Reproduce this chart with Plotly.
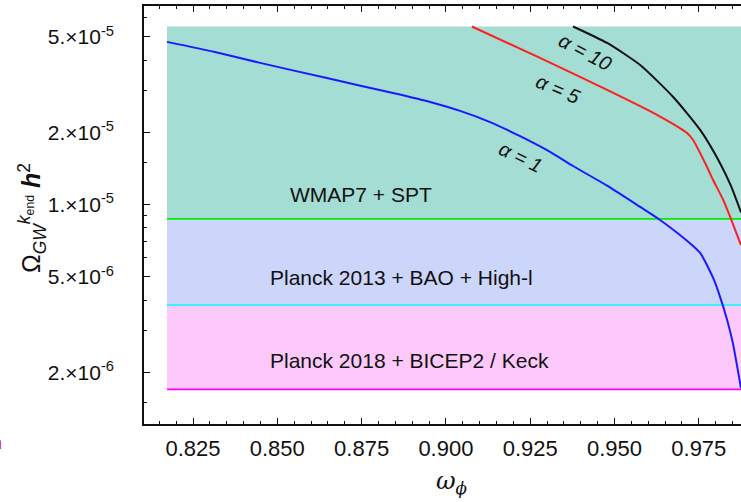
import plotly.graph_objects as go
import numpy as np

# ---- data ----
w_a1 = [0.8173, 0.8315, 0.8449, 0.8647, 0.8843, 0.8953, 0.9042, 0.9131, 0.9220, 0.9309,
        0.9377, 0.9478, 0.9576, 0.9635, 0.9694, 0.9733, 0.9754, 0.9774, 0.9795, 0.9813,
        0.9834, 0.9851, 0.9875]
om_a1 = [4.77e-5, 4.33e-5, 3.90e-5, 3.37e-5, 2.92e-5, 2.68e-5, 2.46e-5, 2.21e-5, 1.93e-5, 1.66e-5,
         1.45e-5, 1.20e-5, 9.79e-6, 8.64e-6, 7.48e-6, 6.73e-6, 6.30e-6, 5.61e-6, 4.86e-6, 4.13e-6,
         3.31e-6, 2.65e-6, 1.72e-6]

w_a5 = [0.9077, 0.9279, 0.9478, 0.9626, 0.9715, 0.9733, 0.9774, 0.9792, 0.9822, 0.9843, 0.9875]
om_a5 = [5.53e-5, 4.09e-5, 3.01e-5, 2.37e-5, 1.99e-5, 1.86e-5, 1.44e-5, 1.27e-5, 1.05e-5,
         8.89e-6, 6.79e-6]

w_a10 = [0.9377, 0.9478, 0.9576, 0.9674, 0.9754, 0.9813, 0.9845, 0.9875]
om_a10 = [5.53e-5, 4.72e-5, 3.82e-5, 2.81e-5, 2.05e-5, 1.49e-5, 1.20e-5, 9.3e-6]

curve_labels = ["α = 10", "α = 5", "α = 1"]

band_names = ["Planck 2018 + BICEP2 / Keck", "Planck 2013 + BAO + High-l", "WMAP7 + SPT"]
band_low = [1.70e-6, 3.82e-6, 8.73e-6]
band_high = [3.82e-6, 8.73e-6, 5.53e-5]
band_w = [0.8173, 0.9900]

x_ticks = [0.825, 0.850, 0.875, 0.900, 0.925, 0.950, 0.975]
x_ticktext = ["0.825", "0.850", "0.875", "0.900", "0.925", "0.950", "0.975"]
y_ticks = [2e-6, 5e-6, 1e-5, 2e-5, 5e-5]
y_ticktext = ["2.×10<sup>-6</sup>", "5.×10<sup>-6</sup>", "1.×10<sup>-5</sup>",
              "2.×10<sup>-5</sup>", "5.×10<sup>-5</sup>"]
y_minor = [1.5e-6, 3e-6, 4e-6, 6e-6, 7e-6, 8e-6, 9e-6, 1.5e-5, 3e-5, 4e-5, 6e-5]

# ---- styles ----
band_fill = ["#fdc9fb", "#ccd5fa", "#a3ddd4"]
band_edge = ["#ff00ff", "#00ffff", "#00ee00"]
FONT = "Liberation Sans, Arial, sans-serif"

fig = go.Figure()

for lo, hi, fc in zip(band_low, band_high, band_fill):
    fig.add_trace(go.Scatter(
        x=[band_w[0], band_w[1], band_w[1], band_w[0], band_w[0]],
        y=[lo, lo, hi, hi, lo], mode="lines", fill="toself",
        fillcolor=fc, line=dict(width=0), hoverinfo="skip", showlegend=False))

for lo, ec in zip(band_low, band_edge):
    fig.add_trace(go.Scatter(x=band_w, y=[lo, lo], mode="lines",
                             line=dict(color=ec, width=1.6), showlegend=False))

for xs, ys, col in [(w_a1, om_a1, "#1a1aff"), (w_a5, om_a5, "#ff1f1f"), (w_a10, om_a10, "#111111")]:
    fig.add_trace(go.Scatter(x=xs, y=ys, mode="lines",
                             line=dict(color=col, width=2, shape="spline", smoothing=0.6),
                             showlegend=False))

annos = []
# band labels
for txt, xv, yv in [(band_names[2], 0.8532, 1.10e-5), (band_names[1], 0.8472, 4.96e-6),
                    (band_names[0], 0.8472, 2.25e-6)]:
    annos.append(dict(x=xv, y=np.log10(yv), xref="x", yref="y", text=txt, showarrow=False,
                      xanchor="left", yanchor="middle",
                      font=dict(family=FONT, size=21, color="#111")))
# curve labels
for txt, xv, yv, ang in [(curve_labels[0], 0.9413, 4.33e-5, 28),
                         (curve_labels[1], 0.9332, 3.03e-5, 23),
                         (curve_labels[2], 0.9220, 1.58e-5, 26)]:
    annos.append(dict(x=xv, y=np.log10(yv), xref="x", yref="y", text="<i>" + txt + "</i>",
                      showarrow=False, textangle=ang, xanchor="center", yanchor="middle",
                      font=dict(family=FONT, size=20, color="#111")))
# axis titles
annos.append(dict(x=-0.1876, y=0.4928, xref="paper", yref="paper",
                  text="Ω<sub><i>GW</i></sub><sup><i>k</i><sub>end</sub></sup> <i><b>h</b></i><sup>2</sup>",
                  showarrow=False, textangle=-90, xanchor="center", yanchor="middle",
                  font=dict(family=FONT, size=25, color="#111")))
annos.append(dict(x=0.516, y=-0.141, xref="paper", yref="paper",
                  text="<i>ω</i><sub><i>ϕ</i></sub>", showarrow=False,
                  xanchor="center", yanchor="middle",
                  font=dict(family="DejaVu Serif, serif", size=24, color="#111")))
# cropped fragment of text at the far left edge
annos.append(dict(x=-0.2345, y=-0.0455, xref="paper", yref="paper", text="n",
                  showarrow=False, xanchor="right", yanchor="middle",
                  font=dict(family=FONT, size=18, color="#c8286e")))

fig.update_layout(
    width=741, height=502,
    margin=dict(l=144, r=0, t=6, b=78),
    plot_bgcolor="white", paper_bgcolor="white",
    annotations=annos,
    xaxis=dict(range=[0.81047, 0.98751], tickmode="array", tickvals=x_ticks, ticktext=x_ticktext,
               ticks="inside", ticklen=6, tickwidth=1.2, tickcolor="#111",
               showline=True, linecolor="#111", linewidth=1.6, mirror="ticks",
               showgrid=False, zeroline=False, ticklabelstandoff=4,
               minor=dict(ticks="inside", ticklen=3, tickwidth=1, tickcolor="#111",
                          dtick=0.005, tick0=0.0, showgrid=False),
               tickfont=dict(family=FONT, size=22, color="#111")),
    yaxis=dict(type="log", range=[np.log10(1.22e-6), np.log10(6.73e-5)],
               tickmode="array", tickvals=y_ticks, ticktext=y_ticktext,
               ticks="inside", ticklen=6, tickwidth=1.2, tickcolor="#111",
               showline=True, linecolor="#111", linewidth=1.6, mirror=False,
               showgrid=False, zeroline=False, ticklabelstandoff=24,
               minor=dict(ticks="inside", ticklen=3, tickwidth=1, tickcolor="#111",
                          tickvals=y_minor, showgrid=False),
               tickfont=dict(family=FONT, size=21, color="#111")),
)

fig.write_html("out.html", config={"displayModeBar": False},
               post_script="document.body.style.margin='0';document.body.style.overflow='hidden';")
